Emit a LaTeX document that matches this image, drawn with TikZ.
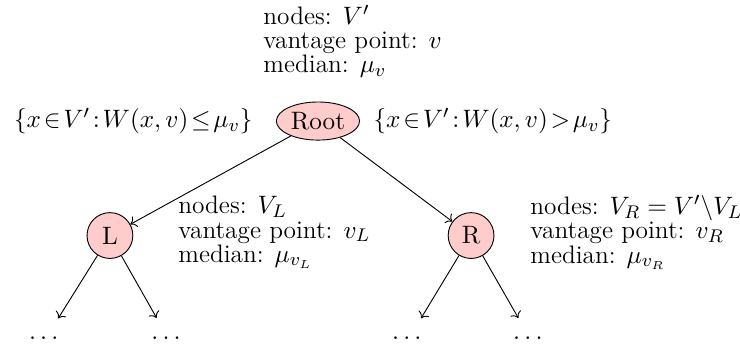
\documentclass[11pt,tikz,border=0pt]{standalone}
\usepackage{amsmath,amssymb}
\usepackage{tikz}
\usetikzlibrary{arrows.meta,positioning,shapes.geometric}

\begin{document}
\begin{tikzpicture}[
    rootnode/.style={draw=black, fill=red!20, ellipse, inner xsep=1pt, inner ysep=2pt},
    subnode/.style={draw=black, fill=red!20, circle, minimum size=0.7cm, inner sep=1pt},
    leaf/.style={circle, minimum size=0.7cm, inner sep=1pt},
    info/.style={align=left, anchor=west, inner sep=0pt, font=\fontsize{11pt}{10.5pt}\selectfont},
    split/.style={inner sep=0pt}
]
\useasboundingbox (-4.86,-3.50) rectangle (6.45,1.85);
\node[rootnode] (root) at (0,0) {Root};
\node[info] (rootinfo) at (-0.84,1.22) {nodes: $V'$\\vantage point: $v$\\median: $\mu_v$};
\node[split, left=0.35cm of root] (leftset) {$\{x\!\in\!V'\!:\!W(x,v)\!\leq\!\mu_v\}$};
\node[split, right=0.2cm of root] (rightset) {$\{x\!\in\!V'\!:\!W(x,v)\!>\!\mu_v\}$};
\node[subnode] (L) at (-3.18,-1.75) {L};
\node[subnode] (R) at (2.34,-1.75) {R};
\node[info] (Linfo) at (-2.14,-1.70) {nodes: $V_L$\\vantage point: $v_L$\\median: $\mu_{v_L}$};
\node[info] (Rinfo) at (3.24,-1.70) {nodes: $V_R = V'\backslash V_L$\\vantage point: $v_R$\\median: $\mu_{v_R}$};
\node[leaf] (LL) at (-4.16,-3.32) {$\dots$};
\node[leaf] (LR) at (-2.29,-3.32) {$\dots$};
\node[leaf] (RL) at (1.39,-3.32) {$\dots$};
\node[leaf] (RR) at (3.24,-3.32) {$\dots$};
\draw[->] (root) -- (L);
\draw[->] (root) -- (R);
\draw[->] (L) -- (LL);
\draw[->] (L) -- (LR);
\draw[->] (R) -- (RL);
\draw[->] (R) -- (RR);
\end{tikzpicture}
\end{document}
